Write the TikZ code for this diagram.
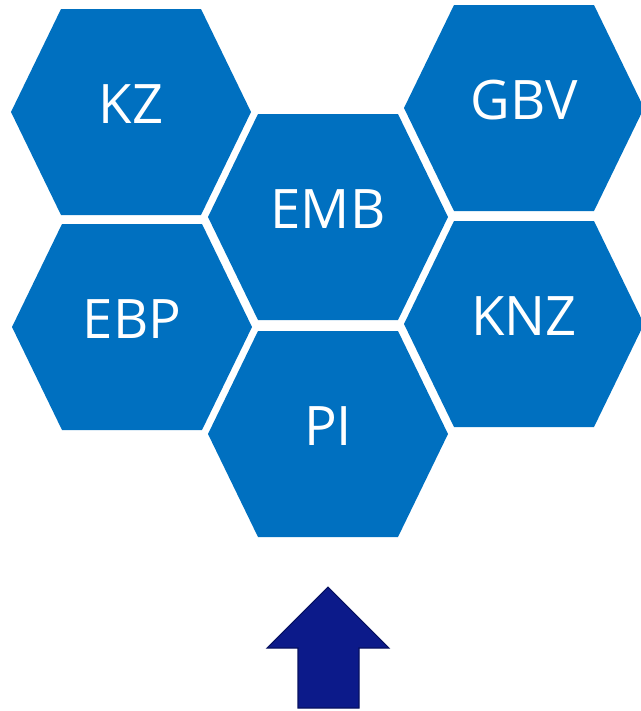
\documentclass[tikz,border=0pt]{standalone}
\usepackage{fontspec}
\setmainfont{Open Sans}
\usetikzlibrary{positioning, calc}

\definecolor{hexblue}{RGB}{0,112,192}
\definecolor{arrowblue}{RGB}{12,26,138}
\definecolor{arrowedge}{RGB}{6,16,96}

\tikzset{
    hexfill/.style={fill=hexblue},
    hexlabel/.style={text=white, font=\fontsize{31}{36}\selectfont, inner sep=0pt},
    bigarrow/.style={fill=arrowblue, draw=arrowedge, line width=0.6pt, line join=miter}
}

\begin{document}
\begin{tikzpicture}[x=0.02cm, y=-0.02cm]
    \useasboundingbox (0,0) rectangle (641,711);

    \foreach \x/\y/\n/\t in {131/112/kz/KZ, 524/108/gbv/GBV, 328/217/emb/EMB,
                             132/327/ebp/EBP, 524/324/knz/KNZ, 328/434/pi/PI} {
        \fill[hexfill] (\x-120,\y) -- (\x-70,\y-103) -- (\x+70,\y-103)
            -- (\x+120,\y) -- (\x+70,\y+103) -- (\x-70,\y+103) -- cycle;
        \node[hexlabel] (\n) at (\x,\y-8) {\t};
    }

    \filldraw[bigarrow] (298,708) -- (298,648) -- (267,648) -- (328,587)
        -- (389,648) -- (359,648) -- (359,708) -- cycle;

\end{tikzpicture}
\end{document}
